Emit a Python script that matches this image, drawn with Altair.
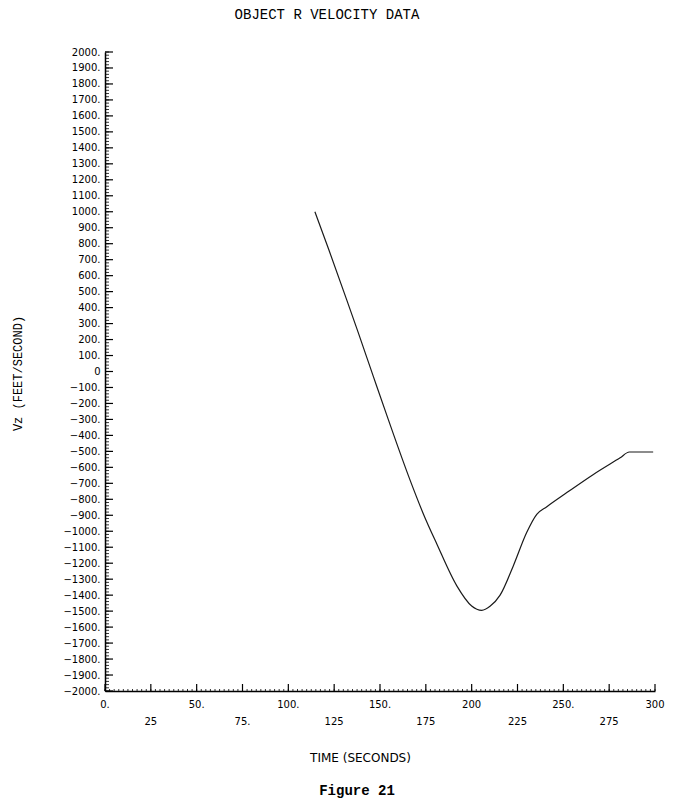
import altair as alt
import pandas as pd

# ---- data ----
TIME_S = [114.5, 122, 131.8, 138, 146.4, 154.5, 166.4, 173.6, 181, 191.9, 200,
          205.5, 210, 215.5, 222.7, 230, 235.5, 241, 251.9, 266.4, 281, 286, 299]
VZ_FPS = [1000, 765, 450, 248, -32, -300, -680, -890, -1080, -1342, -1468,
          -1495, -1470, -1400, -1217, -1008, -894, -846, -758, -644, -540, -504, -504]

Y_MAJOR = list(range(-2000, 2001, 100))
Y_MINOR = list(range(-2000, 2001, 20))
X_MAJOR = list(range(0, 301, 25))
X_MINOR = [i * 2.5 for i in range(0, 121)]

X_LABEL_TOP_VALUES = [0, 50, 100, 150, 200, 250, 300]
X_LABEL_TOP_TEXT = ["0.", "50.", "100.", "150.", "200", "250.", "300"]
X_LABEL_BOT_VALUES = [25, 75, 125, 175, 225, 275]
X_LABEL_BOT_TEXT = ["25", "75.", "125", "175", "225", "275"]

W, H = 550, 639
LABEL_FONT = "DejaVu Sans"
TYPE_FONT = "Liberation Mono"

xs = alt.Scale(domain=[0, 300], nice=False, zero=False)
ys = alt.Scale(domain=[-2000, 2000], nice=False, zero=False)

X_AXIS = alt.Axis(values=X_MAJOR, labels=False, ticks=False, grid=False, domainColor="black",
                  domainWidth=1.5, title="TIME (SECONDS)",
                  titleFont=LABEL_FONT, titleFontSize=12, titleFontWeight="normal",
                  titleColor="black", titleX=255, titleY=66,
                  titleBaseline="middle", titleAlign="center")
Y_AXIS = alt.Axis(values=Y_MAJOR, ticks=False, grid=False, domainColor="black",
                  domainWidth=1.5, labelFont=LABEL_FONT, labelFontSize=10,
                  labelColor="black", labelPadding=5, labelOverlap=False,
                  labelExpr="datum.value == 0 ? '0' : format(datum.value, 'd') + '.'",
                  title="Vz  (FEET/SECOND)", titleFont=TYPE_FONT,
                  titleFontSize=12, titleFontWeight="normal", titleColor="black",
                  titleAngle=-90, titleX=-88, titleY=321,
                  titleBaseline="middle", titleAlign="center")


def X(field):
    return alt.X(field, type="quantitative", scale=xs, axis=X_AXIS)


def Y(field):
    return alt.Y(field, type="quantitative", scale=ys, axis=Y_AXIS)


curve_df = pd.DataFrame({"t": TIME_S, "vz": VZ_FPS})

line = alt.Chart(curve_df).mark_line(color="#1a1a1a", strokeWidth=1.2,
                                     interpolate="monotone").encode(
    x=X("t"), y=Y("vz"))

ymin = alt.Chart(pd.DataFrame({"v": Y_MINOR})).mark_rule(color="black", strokeWidth=0.8).encode(
    y=Y("v"), x=alt.value(0), x2=alt.value(4))
ymaj = alt.Chart(pd.DataFrame({"v": Y_MAJOR})).mark_rule(color="black", strokeWidth=1.2).encode(
    y=Y("v"), x=alt.value(0), x2=alt.value(8))
xmin = alt.Chart(pd.DataFrame({"v": X_MINOR})).mark_rule(color="black", strokeWidth=0.8).encode(
    x=X("v"), y=alt.value(H), y2=alt.value(H - 2))
xmaj = alt.Chart(pd.DataFrame({"v": X_MAJOR})).mark_rule(color="black", strokeWidth=1.2).encode(
    x=X("v"), y=alt.value(H), y2=alt.value(H - 7))

top_lbl = alt.Chart(pd.DataFrame({"v": X_LABEL_TOP_VALUES, "txt": X_LABEL_TOP_TEXT})).mark_text(
    font=LABEL_FONT, fontSize=10, color="black", baseline="middle", align="center").encode(
    x=X("v"), y=alt.value(H + 14), text="txt:N")
bot_lbl = alt.Chart(pd.DataFrame({"v": X_LABEL_BOT_VALUES, "txt": X_LABEL_BOT_TEXT})).mark_text(
    font=LABEL_FONT, fontSize=10, color="black", baseline="middle", align="center").encode(
    x=X("v"), y=alt.value(H + 31), text="txt:N")

fig = alt.Chart(pd.DataFrame({"txt": ["Figure 21"]})).mark_text(
    font=TYPE_FONT, fontSize=14, fontWeight="bold", color="black",
    baseline="middle", align="center").encode(
    x=alt.value(252), y=alt.value(H + 100), text="txt:N")

chart = alt.layer(line, ymin, ymaj, xmin, xmaj, top_lbl, bot_lbl, fig).properties(
    width=W, height=H,
    background="white",
    title=alt.TitleParams("OBJECT R VELOCITY DATA", font=TYPE_FONT, fontSize=14,
                          fontWeight="normal", color="black", anchor="middle",
                          frame="group", dx=-53, offset=25),
    autosize=alt.AutoSizeParams(type="none"),
    padding={"left": 97, "top": 44, "right": 11, "bottom": 107},
).configure_view(stroke=None, strokeWidth=0)

chart.save("out.html", embed_options={"renderer": "svg", "actions": False})
